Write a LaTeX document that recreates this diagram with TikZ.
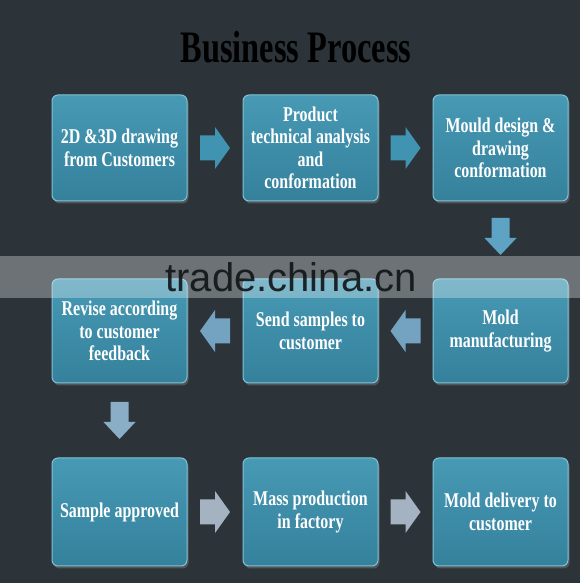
\documentclass[tikz,border=0pt]{standalone}
\usepackage{fontspec}
\setmainfont{Liberation Serif}[FakeStretch=0.76]
\newfontfamily\titlefont{Liberation Serif}[FakeStretch=0.72]
\newfontfamily\wmfont{Liberation Sans}
\usetikzlibrary{shadows,calc}
\definecolor{bg}{HTML}{2C3439}
\definecolor{boxtop}{HTML}{4799B4}
\definecolor{boxbot}{HTML}{35819C}
\definecolor{boxedge}{HTML}{7FC3D8}
\definecolor{arrA}{HTML}{4094B2}
\definecolor{arrB}{HTML}{5EA2C4}
\definecolor{arrC}{HTML}{74A3C2}
\definecolor{arrD}{HTML}{8AAEC6}
\definecolor{arrE}{HTML}{A4B2C2}
\definecolor{wmtext}{HTML}{0F1417}
\begin{document}
\begin{tikzpicture}[x=1pt,y=1pt,
  box/.style={draw=boxedge, line width=1pt, rounded corners=6pt,
    top color=boxtop, bottom color=boxbot,
    minimum width=135pt, minimum height=106pt, inner sep=2pt,
    text=white, font=\bfseries\fontsize{21}{22.5}\selectfont, align=center,
    drop shadow={opacity=0.45, shadow xshift=1.5pt, shadow yshift=-2.5pt}},
  harrow/.pic={\fill[pic actions] (-15,-12.5) -- (0,-12.5) -- (0,-21) -- (15,0) -- (0,21) -- (0,12.5) -- (-15,12.5) -- cycle;},
  varrow/.pic={\fill[pic actions] (-9,18.5) -- (-9,-1.5) -- (-16,-1.5) -- (0,-18.5) -- (16,-1.5) -- (9,-1.5) -- (9,18.5) -- cycle;}
]
\fill[bg] (0,0) rectangle (580,583);
\useasboundingbox (0,0) rectangle (580,583);

\node[anchor=base, font=\titlefont\bfseries\fontsize{45}{50}\selectfont, text=black] (title) at (296,520) {Business Process};

% row 1
\node[box] (b1) at (119.5,435) {2D \&3D drawing\\from Customers};
\node[box] (b2) at (310.5,435) {Product\\technical analysis\\and\\conformation};
\node[box] (b3) at (500.5,435) {Mould design \&\\drawing\\conformation};
% row 2
\node[box, minimum height=104pt] (b4) at (500.5,252) {Mold\\manufacturing};
\node[box, minimum height=104pt] (b5) at (310.5,252) {Send samples to\\customer};
\node[box, minimum height=104pt] (b6) at (119.5,252) {Revise according\\to customer\\feedback};
% row 3
\node[box, minimum height=108pt] (b7) at (119.5,71) {Sample approved};
\node[box, minimum height=108pt] (b8) at (310.5,71) {Mass production\\in factory};
\node[box, minimum height=108pt] (b9) at (500.5,71) {Mold delivery to\\customer};

% arrows
\pic[fill=arrA] at ($(b1.east)!0.5!(b2.west)$) {harrow};
\pic[fill=arrA] at ($(b2.east)!0.5!(b3.west)$) {harrow};
\pic[fill=arrB] at ($(b3.south)!0.5!(b4.north)+(0,3.5)$) {varrow};
\pic[fill=arrC, rotate=180] at ($(b4.west)!0.5!(b5.east)$) {harrow};
\pic[fill=arrC, rotate=180] at ($(b5.west)!0.5!(b6.east)$) {harrow};
\pic[fill=arrD] at ($(b6.south)!0.5!(b7.north)$) {varrow};
\pic[fill=arrE] at ($(b7.east)!0.5!(b8.west)$) {harrow};
\pic[fill=arrE] at ($(b8.east)!0.5!(b9.west)$) {harrow};

% watermark band
\fill[white, opacity=0.31] (0,285) rectangle (580,327);
\node[anchor=base, font=\wmfont\fontsize{40}{44}\selectfont, text=wmtext, text opacity=0.9, inner sep=0pt] (wm) at (291,291) {trade.china.cn};
\end{tikzpicture}
\end{document}
